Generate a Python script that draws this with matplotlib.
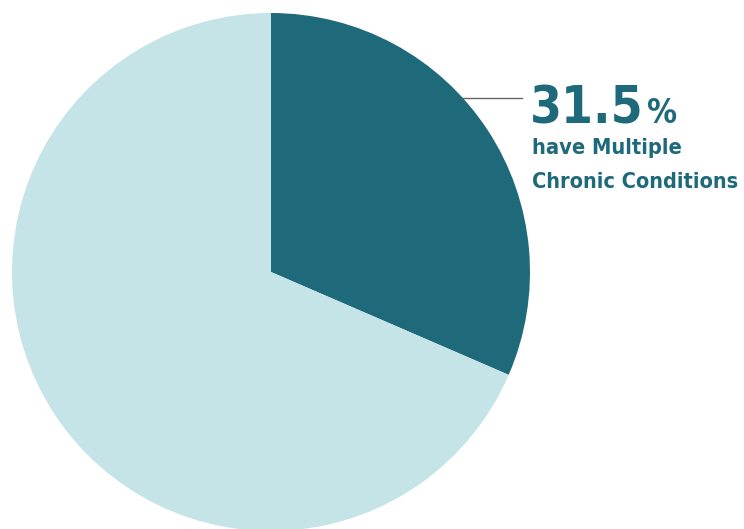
import matplotlib.pyplot as plt
from matplotlib import font_manager

labels = ["have Multiple Chronic Conditions", "other"]
values = [31.5, 68.5]
colors = ["#1e6a7b", "#c4e4e8"]
text_color = "#1e6a7b"

names = {f.name for f in font_manager.fontManager.ttflist}
family = "Liberation Sans Narrow" if "Liberation Sans Narrow" in names else "DejaVu Sans"

W, H = 744, 529
fig = plt.figure(figsize=(W / 100, H / 100), dpi=100)
ax = fig.add_axes([0, 0, 1, 1])

cx, cy, r = 271, H - 272, 259
ax.pie(values, colors=colors, startangle=90, counterclock=False,
       center=(cx, cy), radius=r, frame=True,
       wedgeprops=dict(linewidth=0))
ax.set_xlim(0, W)
ax.set_ylim(0, H)
ax.set_aspect("equal")
ax.axis("off")

# leader line
ax.plot([463, 522], [H - 98, H - 98], color="#666666", lw=1)

renderer = fig.canvas.get_renderer()


def fit_text(x, y, s, width, size):
    t = ax.text(x, y, s, fontsize=size, fontweight="bold", family=family,
                fontstretch="condensed", color=text_color,
                ha="left", va="baseline")
    w = t.get_window_extent(renderer).width
    t.set_fontsize(size * width / w)
    return t


fit_text(530, H - 123, f"{values[0]:g}", 114, 45)
fit_text(647, H - 123, "%", 30, 32)
fit_text(532, H - 154, "have Multiple", 150, 19)
fit_text(532, H - 188, "Chronic Conditions", 206, 19)

fig.savefig("out.png", dpi=100)
